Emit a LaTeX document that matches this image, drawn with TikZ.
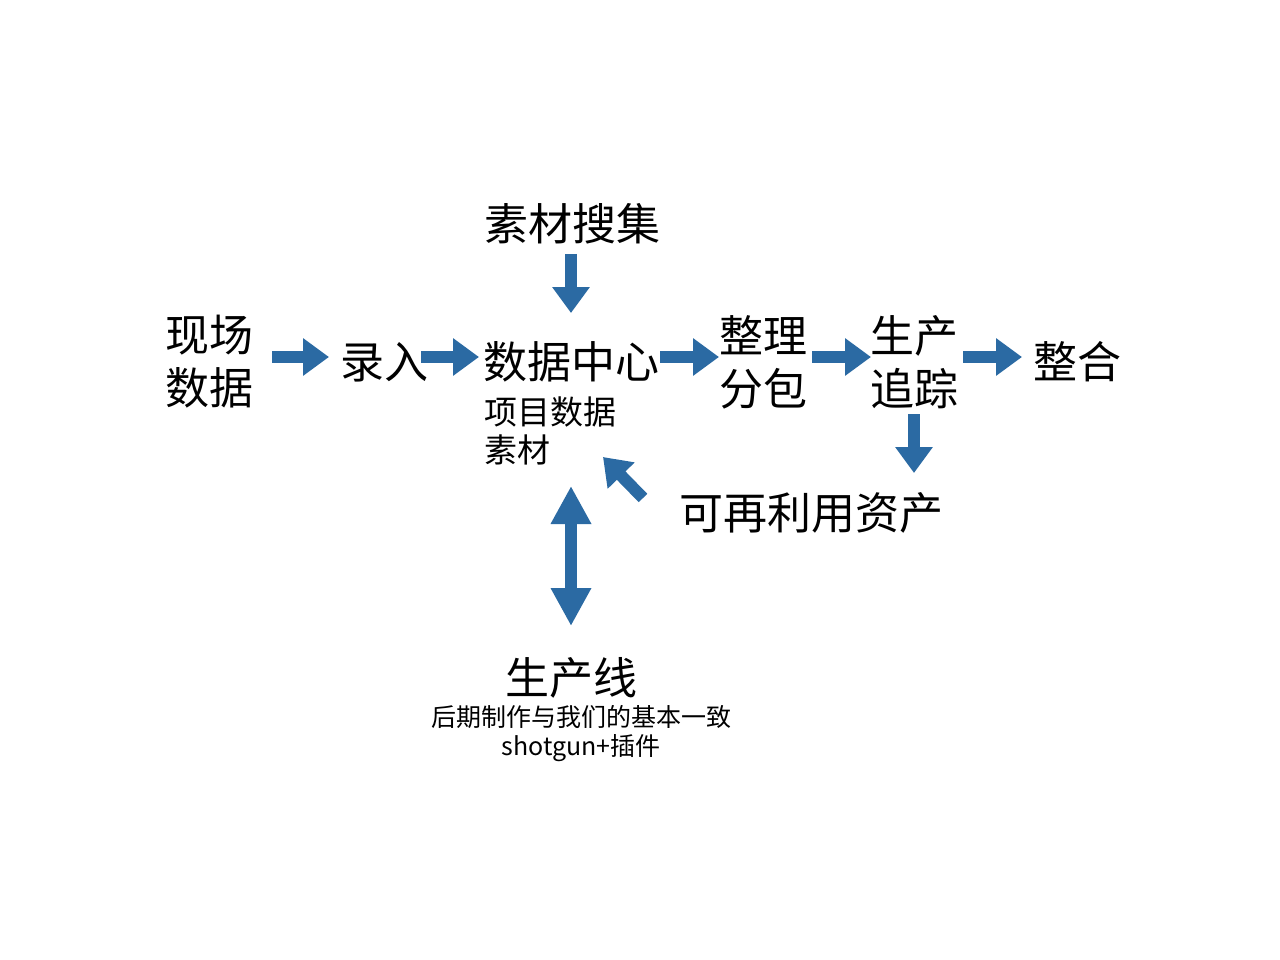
\documentclass[tikz,border=0pt]{standalone}
\usepackage{fontspec}
\setmainfont{Noto Sans CJK SC}
\usetikzlibrary{arrows.meta}
\definecolor{arrowblue}{RGB}{43,106,163}
\tikzset{
  big/.style={inner sep=0pt, align=center, font=\fontsize{44}{53}\selectfont},
  mid/.style={inner sep=0pt, align=left, font=\fontsize{33}{38}\selectfont},
  small/.style={inner sep=0pt, align=center, font=\fontsize{25}{29}\selectfont},
  flowarrow/.style={draw=arrowblue, line width=12pt,
    -{Triangle[width=36pt,length=26pt]}},
  botharrow/.style={draw=arrowblue, line width=12pt,
    {Triangle[width=38pt,length=38pt]}-{Triangle[width=38pt,length=38pt]}}
}
\begin{document}
\begin{tikzpicture}[x=1pt,y=-1pt]
\useasboundingbox[fill=white] (0,0) rectangle (1280,960);

% texts
\node[big] (sucai)   at (572,224) {素材搜集};
\node[big] (xianchang) at (209,362) {现场\\数据};
\node[big] (luru)    at (384,362) {录入};
\node[big] (center)  at (571,362) {数据中心};
\node[mid, anchor=north west] (xiangmu) at (484,397) {项目数据\\素材};
\node[big] (zhengli) at (763,362) {整理\\分包};
\node[big] (shengchan) at (914,362) {生产\\追踪};
\node[big] (zhenghe) at (1077,362) {整合};
\node[big] (reuse)   at (811,513) {可再利用资产};
\node[big] (line)    at (571,678) {生产线};
\node[small] (note)  at (581,734) {后期制作与我们的基本一致\\shotgun+插件};

% arrow end points
\coordinate (a1s) at (272,357); \coordinate (a1e) at (329,357);
\coordinate (a2s) at (421,357); \coordinate (a2e) at (479,357);
\coordinate (a3s) at (660,357); \coordinate (a3e) at (719,357);
\coordinate (a4s) at (812,357); \coordinate (a4e) at (871,357);
\coordinate (a5s) at (963,357); \coordinate (a5e) at (1022,357);
\coordinate (d1s) at (571,254); \coordinate (d1e) at (571,313);
\coordinate (d2s) at (914,414); \coordinate (d2e) at (914,473);
\coordinate (gs)  at (643,498); \coordinate (ge)  at (603,457);
\coordinate (vs)  at (571,486); \coordinate (ve)  at (571,626);

% connectors
\draw[flowarrow] (a1s) -- (a1e);
\draw[flowarrow] (a2s) -- (a2e);
\draw[flowarrow] (a3s) -- (a3e);
\draw[flowarrow] (a4s) -- (a4e);
\draw[flowarrow] (a5s) -- (a5e);
\draw[flowarrow] (d1s) -- (d1e);
\draw[flowarrow] (d2s) -- (d2e);
\draw[flowarrow] (gs) -- (ge);
\draw[botharrow] (vs) -- (ve);
\end{tikzpicture}
\end{document}
